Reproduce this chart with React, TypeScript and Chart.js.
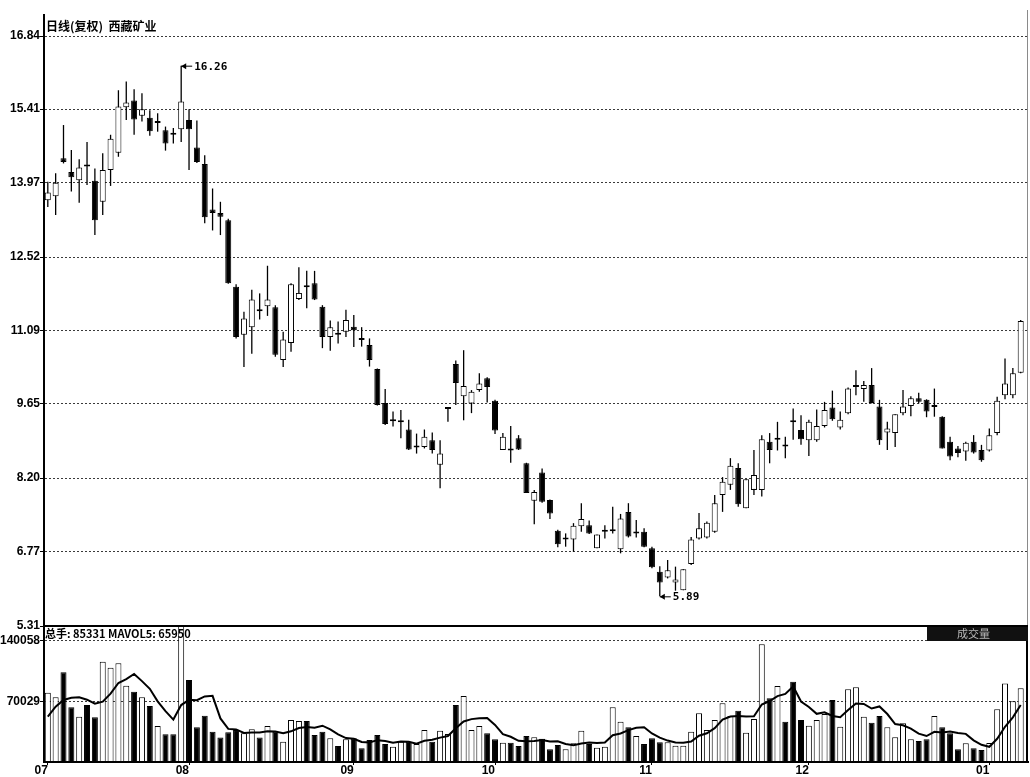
import React, { useEffect, useRef } from 'react';
import { Chart, registerables } from 'chart.js';

Chart.register(...registerables);

// ---------- data ----------
const title = '日线(复权)  西藏矿业';
const volumeInfo = '总手: 85331 MAVOL5: 65950';
const volumeTag = '成交量';

const monthLabels = ['07', '08', '09', '10', '11', '12', '01'];
const monthStartIndex = [0, 18, 39, 57, 77, 97, 120];

const priceTicks = [5.31, 6.77, 8.2, 9.65, 11.09, 12.52, 13.97, 15.41, 16.84];
const volumeTicks = [70029, 140058];

const opens = [
  13.63, 13.71, 14.45, 14.18, 14.02, 14.33, 14.01, 13.6, 14.22, 14.56,
  15.45, 15.58, 15.28, 15.24, 15.14, 15.0, 14.93, 15.02, 15.2, 14.66,
  14.34, 13.45, 13.38, 13.24, 11.94, 11.0, 11.15, 11.48, 11.56, 11.54,
  10.51, 10.84, 11.7, 11.95, 12.01, 11.55, 10.96, 11.04, 11.06, 11.16,
  10.92, 10.8, 10.33, 9.67, 9.31, 9.29, 9.15, 8.8, 8.81, 8.94,
  8.46, 9.55, 10.43, 9.8, 9.66, 9.92, 10.15, 9.71, 8.75, 8.76,
  8.98, 8.49, 7.76, 8.31, 7.77, 7.17, 7.0, 7.0, 7.26, 7.28,
  6.83, 7.15, 7.16, 6.81, 7.54, 7.12, 7.15, 6.83, 6.37, 6.26,
  6.16, 6.01, 6.52, 7.02, 7.04, 7.15, 7.87, 8.07, 8.4, 7.61,
  7.97, 7.97, 8.91, 8.95, 8.84, 9.31, 9.14, 8.94, 8.94, 9.22,
  9.58, 9.19, 9.47, 9.98, 9.94, 10.02, 9.6, 9.09, 9.08, 9.47,
  9.61, 9.76, 9.73, 9.59, 9.4, 8.91, 8.78, 8.72, 8.91, 8.75,
  8.74, 9.08, 9.82, 9.82, 10.26,
];
const highs = [
  13.99, 14.16, 15.1, 14.61, 14.43, 14.77, 14.25, 14.55, 14.91, 15.78,
  15.95, 15.8, 15.72, 15.39, 15.33, 15.07, 15.04, 16.26, 15.41, 15.19,
  14.51, 13.86, 13.6, 13.27, 11.99, 11.45, 11.88, 11.81, 12.35, 11.58,
  11.06, 12.01, 12.32, 12.25, 12.25, 11.58, 11.28, 11.26, 11.49, 11.39,
  11.15, 10.93, 10.34, 9.94, 9.5, 9.53, 9.34, 9.07, 9.15, 9.09,
  8.94, 9.55, 10.5, 10.7, 9.92, 10.25, 10.17, 9.73, 9.08, 9.22,
  9.04, 8.5, 7.97, 8.39, 7.78, 7.19, 7.12, 7.32, 7.71, 7.37,
  7.1, 7.28, 7.64, 7.5, 7.71, 7.38, 7.22, 6.86, 6.48, 6.6,
  6.47, 6.42, 7.05, 7.52, 7.35, 7.87, 8.22, 8.59, 8.49, 8.18,
  8.75, 9.04, 9.08, 9.3, 9.01, 9.56, 9.43, 9.34, 9.54, 9.69,
  9.91, 9.5, 9.97, 10.31, 10.1, 10.35, 9.73, 9.3, 9.45, 9.92,
  9.8, 9.87, 9.74, 9.95, 9.41, 9.01, 8.83, 8.91, 9.04, 8.85,
  9.17, 9.79, 10.54, 10.35, 11.29,
];
const lows = [
  13.5, 13.34, 14.35, 13.8, 13.58, 13.93, 12.95, 13.34, 13.91, 14.48,
  15.2, 14.91, 15.17, 14.89, 14.97, 14.6, 14.74, 14.77, 14.22, 14.36,
  13.18, 13.04, 12.95, 12.0, 10.93, 10.37, 10.63, 11.3, 11.37, 10.57,
  10.37, 10.67, 11.68, 11.52, 11.68, 10.74, 10.69, 10.83, 10.96, 10.76,
  10.77, 10.38, 9.62, 9.24, 9.21, 8.98, 8.75, 8.68, 8.78, 8.68,
  8.0, 9.3, 9.63, 9.33, 9.47, 9.89, 9.68, 9.06, 8.75, 8.5,
  8.75, 7.91, 7.3, 7.72, 7.4, 6.85, 6.86, 6.76, 7.15, 7.11,
  6.83, 7.02, 7.12, 6.73, 7.04, 7.04, 6.85, 6.44, 5.89, 6.24,
  6.0, 6.01, 6.5, 7.0, 7.02, 7.13, 7.54, 7.97, 7.64, 7.61,
  7.87, 7.84, 8.49, 8.74, 8.59, 8.95, 8.85, 8.63, 8.91, 9.19,
  9.32, 9.15, 9.45, 9.82, 9.69, 9.66, 8.85, 8.75, 8.81, 9.43,
  9.41, 9.66, 9.39, 9.4, 8.78, 8.55, 8.61, 8.54, 8.68, 8.52,
  8.72, 9.04, 9.74, 9.76, 10.25,
];
const closes = [
  13.78, 13.97, 14.38, 14.08, 14.27, 14.29, 13.24, 14.22, 14.83, 15.46,
  15.54, 15.21, 15.41, 14.98, 15.16, 14.74, 14.91, 15.56, 15.02, 14.38,
  13.3, 13.38, 13.31, 12.01, 10.96, 11.32, 11.69, 11.46, 11.69, 10.61,
  10.91, 11.99, 11.82, 11.93, 11.69, 10.96, 11.15, 11.0, 11.29, 11.09,
  10.9, 10.51, 9.63, 9.26, 9.33, 9.31, 8.76, 8.82, 9.01, 8.75,
  8.68, 9.55, 10.06, 10.0, 9.89, 10.05, 9.98, 9.13, 9.01, 8.74,
  8.76, 7.91, 7.93, 7.74, 7.51, 6.91, 7.02, 7.27, 7.4, 7.12,
  7.1, 7.19, 7.18, 7.41, 7.06, 7.14, 6.86, 6.46, 6.16, 6.4,
  6.22, 6.42, 7.0, 7.22, 7.33, 7.71, 8.13, 8.44, 7.69, 8.18,
  8.26, 8.96, 8.75, 8.97, 8.82, 9.29, 8.96, 9.3, 9.22, 9.53,
  9.35, 9.34, 9.95, 10.0, 10.02, 9.67, 8.94, 9.17, 9.45, 9.6,
  9.76, 9.69, 9.5, 9.61, 8.78, 8.62, 8.69, 8.89, 8.7, 8.55,
  9.04, 9.71, 10.05, 10.25, 11.27,
];
const volumes = [
  80200, 74900, 103800, 63300, 52500, 66000, 51700, 116100, 109200, 114200,
  88400, 81400, 74900, 64800, 41700, 32000, 32000, 159000, 94900, 40100,
  53600, 35100, 28500, 34300, 37000, 33200, 37800, 28500, 41700, 35100,
  23500, 48600, 47500, 47500, 31300, 35100, 27400, 18500, 26300, 27400,
  15900, 25500, 31300, 20800, 17700, 23500, 23500, 20800, 37000, 23500,
  36300, 32400, 66000, 76400, 37000, 41700, 33200, 26300, 22400, 22400,
  18500, 30100, 28600, 27000, 14700, 19700, 14700, 21600, 36300, 20800,
  16600, 17700, 63300, 46700, 40100, 30100, 20800, 27400, 22800, 22800,
  18900, 18900, 35100, 56400, 37000, 48600, 67900, 53200, 59400, 33900,
  49800, 136200, 73700, 88000, 46700, 92900, 48600, 42000, 48600, 55600,
  71800, 40900, 84100, 86500, 52400, 45500, 53200, 40100, 28600, 44800,
  26300, 24300, 26300, 53200, 40100, 33200, 14700, 21600, 15900, 13900,
  22000, 61000, 91000, 70400, 85331,
];
// MAVOL5 of the first four days depends on earlier sessions
const mavolLead = [52400, 64000, 71800, 74400];

// ---------- helpers ----------
const N = closes.length;
const isUp = closes.map((c, i) => c >= opens[i]);
const mavol5 = volumes.map((v, i) => {
  if (i < 4) return mavolLead[i];
  let s = 0;
  for (let k = i - 4; k <= i; k++) s += volumes[k];
  return s / 5;
});

const LABEL_FONT = '"Liberation Sans", Arial, sans-serif';
const CJK_FONT = '"Noto Sans CJK SC", "Liberation Sans", sans-serif';

function arrowLabel(ctx: CanvasRenderingContext2D, x: number, y: number, text: string) {
  ctx.strokeStyle = '#000';
  ctx.lineWidth = 1;
  ctx.beginPath();
  ctx.moveTo(x, y + 0.5);
  ctx.lineTo(x + 11, y + 0.5);
  ctx.stroke();
  ctx.fillStyle = '#000';
  ctx.beginPath();
  ctx.moveTo(x, y + 0.5);
  ctx.lineTo(x + 5, y - 2.5);
  ctx.lineTo(x + 5, y + 3.5);
  ctx.closePath();
  ctx.fill();
  ctx.font = 'bold 11px "DejaVu Sans Mono", monospace';
  ctx.textAlign = 'left';
  ctx.textBaseline = 'middle';
  ctx.fillText(text, x + 13, y + 1);
}

const overlayPlugin = {
  id: 'overlay',
  afterDraw(chart: any) {
    const { ctx, chartArea, scales } = chart;
    const xs = scales.x;
    const ys = scales.y;
    ctx.save();
    const sepY = Math.round(ys.getPixelForValue(priceTicks[0]));

    // right frame
    ctx.strokeStyle = '#8a8a8a';
    ctx.lineWidth = 1;
    ctx.beginPath();
    ctx.moveTo(chartArea.right - 0.5, chartArea.top - 5);
    ctx.lineTo(chartArea.right - 0.5, sepY);
    ctx.stroke();
    ctx.strokeStyle = '#000';
    ctx.lineWidth = 2;
    ctx.beginPath();
    ctx.moveTo(chartArea.right - 1, sepY);
    ctx.lineTo(chartArea.right - 1, chartArea.bottom);
    ctx.stroke();

    // separator between price and volume panels
    ctx.strokeStyle = '#000';
    ctx.lineWidth = 2;
    ctx.beginPath();
    ctx.moveTo(chartArea.left, sepY);
    ctx.lineTo(chartArea.right, sepY);
    ctx.stroke();

    // title
    ctx.fillStyle = '#000';
    ctx.font = `bold 12px ${CJK_FONT}`;
    ctx.textAlign = 'left';
    ctx.textBaseline = 'middle';
    ctx.fillText(title, chartArea.left + 2, chartArea.top + 11);

    // highest / lowest markers
    let hi = 0;
    let lo = 0;
    for (let i = 1; i < N; i++) {
      if (highs[i] > highs[hi]) hi = i;
      if (lows[i] < lows[lo]) lo = i;
    }
    arrowLabel(ctx, xs.getPixelForValue(hi), ys.getPixelForValue(highs[hi]), highs[hi].toFixed(2));
    arrowLabel(ctx, xs.getPixelForValue(lo), ys.getPixelForValue(lows[lo]), lows[lo].toFixed(2));

    // volume panel caption
    ctx.fillStyle = '#000';
    ctx.font = `bold 11px ${CJK_FONT}`;
    ctx.textAlign = 'left';
    ctx.textBaseline = 'middle';
    ctx.fillText(volumeInfo, chartArea.left + 1, sepY + 8);

    // volume tag box
    const boxW = 101;
    ctx.fillStyle = '#111';
    ctx.fillRect(chartArea.right - boxW, sepY + 1, boxW, 14);
    ctx.fillStyle = '#b8b8b8';
    ctx.font = `11px ${CJK_FONT}`;
    ctx.textAlign = 'center';
    ctx.fillText(volumeTag, chartArea.right - boxW / 2 - 4, sepY + 8);
    ctx.restore();
  },
};

export default function App() {
  const canvasRef = useRef<HTMLCanvasElement | null>(null);

  useEffect(() => {
    document.body.style.margin = '0';
    document.body.style.overflow = 'hidden';
    const canvas = canvasRef.current;
    if (!canvas) return;

    const wickData = highs.map((h, i) => ({ x: i, y: [lows[i], h] }));
    const bodyData = opens.map((o, i) => ({ x: i, y: [o, closes[i]] }));
    const volData = volumes.map((v, i) => ({ x: i, y: v }));
    const maData = mavol5.map((v, i) => ({ x: i, y: v }));
    const fills = isUp.map((u) => (u ? '#ffffff' : '#000000'));

    const chart = new Chart(canvas, {
      type: 'bar',
      data: {
        datasets: [
          {
            type: 'bar',
            label: 'wick',
            data: wickData as any,
            xAxisID: 'x',
            yAxisID: 'y',
            backgroundColor: '#000',
            borderWidth: 0,
            barThickness: 1.3,
            grouped: false,
            inflateAmount: 0,
            order: 4,
          } as any,
          {
            type: 'bar',
            label: 'body',
            data: bodyData as any,
            xAxisID: 'x',
            yAxisID: 'y',
            backgroundColor: fills,
            borderColor: '#000',
            borderWidth: 1,
            borderSkipped: false,
            barThickness: 6,
            minBarLength: 2,
            grouped: false,
            inflateAmount: 0,
            order: 3,
          } as any,
          {
            type: 'bar',
            label: 'volume',
            data: volData as any,
            xAxisID: 'x',
            yAxisID: 'yv',
            backgroundColor: fills,
            borderColor: '#000',
            borderWidth: 1,
            borderSkipped: false,
            barThickness: 6,
            grouped: false,
            inflateAmount: 0,
            order: 2,
          } as any,
          {
            type: 'line',
            label: 'MAVOL5',
            data: maData as any,
            xAxisID: 'x',
            yAxisID: 'yv',
            borderColor: '#000',
            borderWidth: 2,
            pointRadius: 0,
            tension: 0,
            order: 1,
          } as any,
        ],
      },
      options: {
        animation: false,
        responsive: false,
        devicePixelRatio: 1,
        layout: { padding: { top: 15, right: 2, left: 0, bottom: 0 } },
        plugins: { legend: { display: false }, tooltip: { enabled: false } },
        scales: {
          x: {
            type: 'linear',
            position: 'bottom',
            offset: false,
            min: -0.485,
            max: 124.93,
            afterFit: (s: any) => {
              s.height = 15;
            },
            afterBuildTicks: (s: any) => {
              s.ticks = monthStartIndex.map((v) => ({ value: v }));
            },
            ticks: {
              autoSkip: false,
              maxRotation: 0,
              align: 'end',
              padding: -2,
              color: '#000',
              font: { family: LABEL_FONT, size: 12, weight: 'bold' },
              callback: (_v: any, idx: number) => monthLabels[idx],
            },
            grid: { offset: false, drawOnChartArea: false, drawTicks: true, tickLength: 3, color: '#000', tickColor: '#000' },
            border: { display: true, color: '#000', width: 2 },
          } as any,
          y: {
            type: 'linear',
            position: 'left',
            stack: 'panels',
            stackWeight: 611,
            weight: 1,
            min: 5.31,
            max: 17.2504,
            afterFit: (s: any) => {
              s.width = 44;
            },
            afterBuildTicks: (s: any) => {
              s.ticks = priceTicks.map((v) => ({ value: v }));
            },
            ticks: {
              autoSkip: false,
              padding: 0,
              color: '#000',
              font: { family: LABEL_FONT, size: 12, weight: 'bold' },
              callback: (v: any) => Number(v).toFixed(2),
            },
            grid: { color: '#3a3a3a', lineWidth: 1, drawTicks: true, tickLength: 4, tickColor: '#000' },
            border: { display: true, color: '#000', width: 2, dash: [2, 2] },
          } as any,
          yv: {
            type: 'linear',
            position: 'left',
            stack: 'panels',
            stackWeight: 136,
            weight: 0,
            min: 0,
            max: 157420,
            afterFit: (s: any) => {
              s.width = 44;
            },
            afterBuildTicks: (s: any) => {
              s.ticks = volumeTicks.map((v) => ({ value: v }));
            },
            ticks: {
              autoSkip: false,
              padding: 0,
              color: '#000',
              font: { family: LABEL_FONT, size: 12, weight: 'bold' },
              callback: (v: any) => String(v),
            },
            grid: { color: '#3a3a3a', lineWidth: 1, drawTicks: true, tickLength: 4, tickColor: '#000' },
            border: { display: true, color: '#000', width: 2, dash: [2, 2] },
          } as any,
        },
      },
      plugins: [overlayPlugin],
    } as any);

    return () => {
      chart.destroy();
    };
  }, []);

  return (
    <canvas
      ref={canvasRef}
      width={1030}
      height={777}
      style={{ display: 'block', width: '1030px', height: '777px' }}
    />
  );
}
